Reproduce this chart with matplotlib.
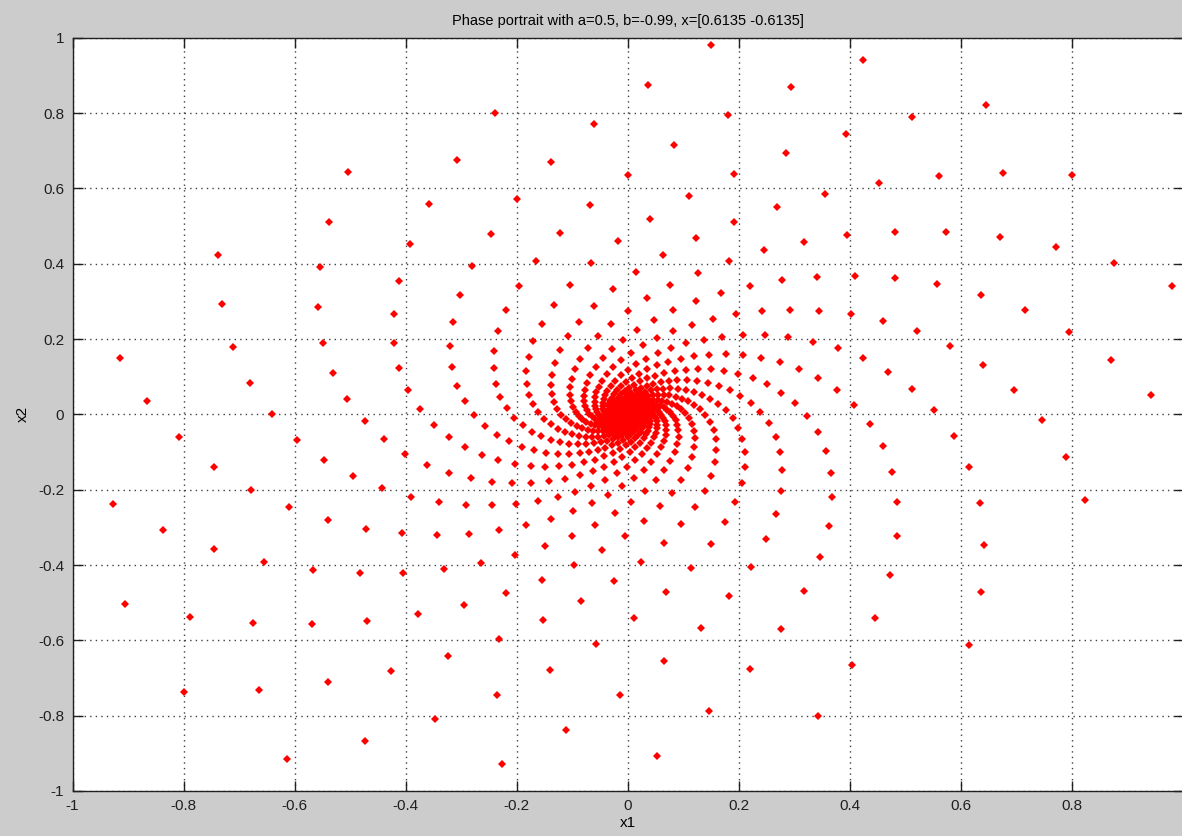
import numpy as np
import matplotlib
matplotlib.use("Agg")
import matplotlib.pyplot as plt

# system parameters and starting state
a = 0.5
b = -0.99
x0 = [0.6135, -0.6135]
n_steps = 1000

# x1(k+1) = x2(k),  x2(k+1) = b*x1(k) + a*x2(k)
A = np.array([[0.0, 1.0], [b, a]])
traj = [np.array(x0)]
for k in range(n_steps):
    traj.append(A @ traj[-1])
traj = np.array(traj)

tick_vals = [-1, -0.8, -0.6, -0.4, -0.2, 0, 0.2, 0.4, 0.6, 0.8, 1]
xtick_labels = ['-1', '-0.8', '-0.6', '-0.4', '-0.2', '0', '0.2', '0.4', '0.6', '0.8', '']
ytick_labels = ['-1', '-0.8', '-0.6', '-0.4', '-0.2', '0', '0.2', '0.4', '0.6', '0.8', '1']

plt.rcParams['font.family'] = ['Liberation Sans', 'DejaVu Sans']
plt.rcParams['font.size'] = 11

fig = plt.figure(figsize=(11.82, 8.36), dpi=100)
fig.patch.set_facecolor('#cccccc')
W, H = 1182.0, 836.0
ax = fig.add_axes([72.5 / W, (H - 791) / H, (1183.5 - 72.5) / W, (791 - 37.7) / H])

ax.plot(traj[:, 0], traj[:, 1], linestyle='none', marker='D', markersize=3.8,
        color='red', markeredgewidth=0, clip_on=True)

ax.set_xlim(-1, 1)
ax.set_ylim(-1, 1)
ax.set_xticks(tick_vals)
ax.set_yticks(tick_vals)
ax.set_xticklabels(xtick_labels)
ax.set_yticklabels(ytick_labels)
ax.tick_params(direction='in', length=7, width=1, top=True, right=True,
               colors='#202020', pad=6)
ax.grid(True, linestyle=(0, (1, 3)), color='#404040', linewidth=1)
ax.set_axisbelow(True)
for s in ax.spines.values():
    s.set_color('#202020')
    s.set_linewidth(1)

ax.set_title('Phase portrait with a=0.5, b=-0.99, x=[0.6135 -0.6135]',
             fontsize=10.5, pad=9)
ax.set_xlabel('x1', labelpad=2)
ax.set_ylabel('x2', labelpad=6)

fig.savefig('out.png', dpi=100, facecolor=fig.get_facecolor())
